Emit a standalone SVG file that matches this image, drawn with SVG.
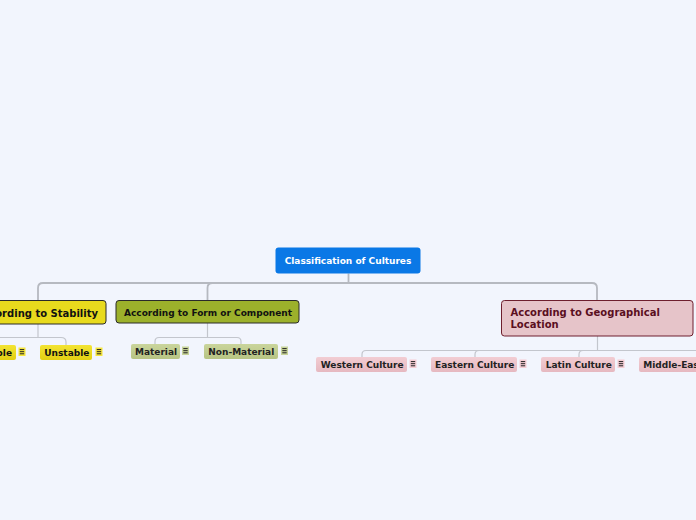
<svg xmlns="http://www.w3.org/2000/svg" width="696" height="520" viewBox="0 0 696 520">
<defs>
<linearGradient id="gy" x1="0" y1="0" x2="0" y2="1"><stop offset="0" stop-color="#F3E433"/><stop offset="1" stop-color="#E3CF12"/></linearGradient>
<linearGradient id="go" x1="0" y1="0" x2="0" y2="1"><stop offset="0" stop-color="#CAD59C"/><stop offset="1" stop-color="#B7C483"/></linearGradient>
<linearGradient id="gp" x1="0" y1="0" x2="0" y2="1"><stop offset="0" stop-color="#F2CDD3"/><stop offset="1" stop-color="#E6B8C0"/></linearGradient>
</defs>
<style>
text{font-family:"DejaVu Sans","Verdana",sans-serif;font-weight:bold}
.t9{font-size:9px}
.t10{font-size:10px}
.con{fill:none;stroke:#C3C6CD;stroke-width:1.2}
.main{fill:none;stroke:#B6B9C0;stroke-width:1.8}
.ico line{stroke:#222;stroke-width:1}
</style>
<rect width="696" height="520" fill="#F2F5FD"/>
<g id="connectors">
<path class="main" d="M348.5 273.5 V283"/>
<path class="main" d="M43 283 H592 M38 300 V288 Q38 283 43 283 M592 283 Q597 283 597 288 V300 M207.5 300 V288 Q207.5 283 212.5 283"/>
<path class="con" d="M38 324 V337.5 M-4 337.5 H61 Q66 337.5 66 342 V345"/>
<path class="con" d="M207.5 323 V337.5 M155 344 V341.5 Q155 337.5 159 337.5 H237 Q241 337.5 241 341.5 V344"/>
<path class="con" d="M597.5 336 V350.5 M362 357 V354.5 Q362 350.5 366 350.5 H700 M475 357 V354.5 Q475 350.5 479 350.5 M579 357 V354.5 Q579 350.5 583 350.5"/>
</g>
<g id="root">
<rect x="275.5" y="247.5" width="145" height="26" rx="3" fill="#0A78E6"/>
<text class="t9" x="348" y="264" fill="#FFFFFF" text-anchor="middle">Classification of Cultures</text>
</g>
<g id="stability">
<rect x="-40" y="300.5" width="146" height="23.5" rx="3" fill="#E8DA1D" stroke="#2A2A2A" stroke-width="1"/>
<text x="98" y="316.5" font-size="10" fill="#111" text-anchor="end">According to Stability</text>
</g>
<g id="form">
<rect x="116" y="300.5" width="183" height="22.5" rx="3" fill="#9CB12B" stroke="#2A2A2A" stroke-width="1"/>
<text class="t9" x="124" y="315.5" fill="#111">According to Form or Component</text>
</g>
<g id="geo">
<rect x="501.5" y="300.5" width="191.5" height="35.5" rx="3" fill="#E6C4C9" stroke="#6E1F2E" stroke-width="1"/>
<text class="t10" x="510.5" y="316" fill="#5A0F1E">According to Geographical</text>
<text class="t10" x="510.5" y="327.5" fill="#5A0F1E">Location</text>
</g>
<g id="stable">
<rect x="-26" y="345" width="42" height="15" rx="2" fill="url(#gy)"/>
<text class="t9" x="12" y="356" fill="#111" text-anchor="end">Stable</text>
<g class="ico"><rect x="18.5" y="347.5" width="7" height="8.5" fill="#F6E63C"/><line x1="19.8" y1="349.6" x2="24.2" y2="349.6"/><line x1="19.8" y1="351.7" x2="24.2" y2="351.7"/><line x1="19.8" y1="353.8" x2="24.2" y2="353.8"/></g>
</g>
<g id="unstable">
<rect x="40" y="345" width="52" height="15" rx="2" fill="url(#gy)"/>
<text class="t9" x="44.3" y="356" fill="#111">Unstable</text>
<g class="ico"><rect x="95.5" y="347.5" width="7" height="8.5" fill="#F6E63C"/><line x1="96.8" y1="349.6" x2="101.2" y2="349.6"/><line x1="96.8" y1="351.7" x2="101.2" y2="351.7"/><line x1="96.8" y1="353.8" x2="101.2" y2="353.8"/></g>
</g>
<g id="material">
<rect x="131" y="344" width="49" height="15" rx="2" fill="url(#go)"/>
<text class="t9" x="135" y="355" fill="#222">Material</text>
<g class="ico"><rect x="182" y="346.5" width="7" height="8.5" fill="#C8D49A"/><line x1="183.3" y1="348.6" x2="187.7" y2="348.6"/><line x1="183.3" y1="350.7" x2="187.7" y2="350.7"/><line x1="183.3" y1="352.8" x2="187.7" y2="352.8"/></g>
</g>
<g id="nonmaterial">
<rect x="204" y="344" width="74" height="15" rx="2" fill="url(#go)"/>
<text class="t9" x="208.3" y="355" fill="#222">Non-Material</text>
<g class="ico"><rect x="281" y="346.5" width="7" height="8.5" fill="#C8D49A"/><line x1="282.3" y1="348.6" x2="286.7" y2="348.6"/><line x1="282.3" y1="350.7" x2="286.7" y2="350.7"/><line x1="282.3" y1="352.8" x2="286.7" y2="352.8"/></g>
</g>
<g id="western">
<rect x="316" y="357" width="91" height="15" rx="2" fill="url(#gp)"/>
<text class="t9" x="320.7" y="368" fill="#222">Western Culture</text>
<g class="ico"><rect x="409.5" y="359.5" width="7" height="8.5" fill="#F6CED5"/><line x1="410.8" y1="361.6" x2="415.2" y2="361.6"/><line x1="410.8" y1="363.7" x2="415.2" y2="363.7"/><line x1="410.8" y1="365.8" x2="415.2" y2="365.8"/></g>
</g>
<g id="eastern">
<rect x="431" y="357" width="86" height="15" rx="2" fill="url(#gp)"/>
<text class="t9" x="435" y="368" fill="#222">Eastern Culture</text>
<g class="ico"><rect x="519.5" y="359.5" width="7" height="8.5" fill="#F6CED5"/><line x1="520.8" y1="361.6" x2="525.2" y2="361.6"/><line x1="520.8" y1="363.7" x2="525.2" y2="363.7"/><line x1="520.8" y1="365.8" x2="525.2" y2="365.8"/></g>
</g>
<g id="latin">
<rect x="541" y="357" width="74" height="15" rx="2" fill="url(#gp)"/>
<text class="t9" x="545.7" y="368" fill="#222">Latin Culture</text>
<g class="ico"><rect x="617.5" y="359.5" width="7" height="8.5" fill="#F6CED5"/><line x1="618.8" y1="361.6" x2="623.2" y2="361.6"/><line x1="618.8" y1="363.7" x2="623.2" y2="363.7"/><line x1="618.8" y1="365.8" x2="623.2" y2="365.8"/></g>
</g>
<g id="middleeast">
<rect x="639" y="357" width="130" height="15" rx="2" fill="url(#gp)"/>
<text class="t9" x="643.3" y="368" fill="#222">Middle-Eastern Culture</text>
</g>
</svg>
